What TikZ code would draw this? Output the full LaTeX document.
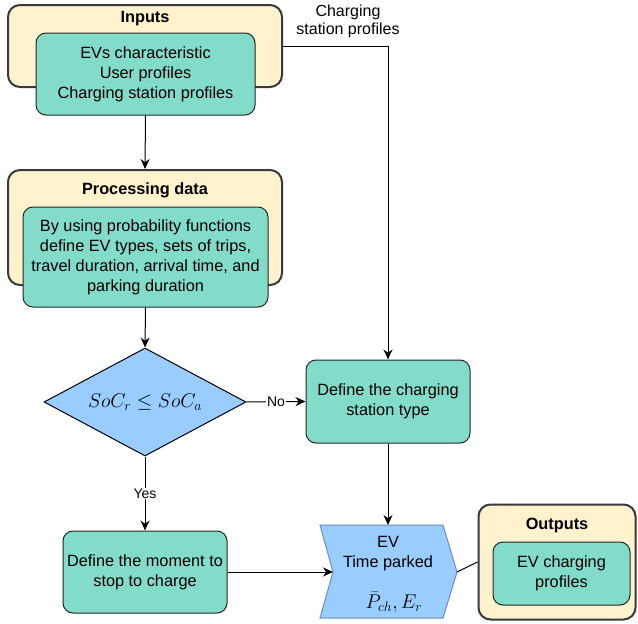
\documentclass[tikz,border=0pt]{standalone}
\usepackage{amsmath}
\usepackage{fontspec}
\setmainfont{Liberation Sans}
\usetikzlibrary{shapes.geometric,arrows.meta}
\definecolor{outerfill}{RGB}{255,242,204}
\definecolor{outerdraw}{RGB}{54,57,61}
\definecolor{greenfill}{RGB}{131,219,201}
\definecolor{bluefill}{RGB}{153,204,255}
\definecolor{bluedraw}{RGB}{108,142,191}
\begin{document}
\begin{tikzpicture}[x=1pt,y=-1pt,
  every node/.style={font=\fontsize{16.3}{20}\selectfont, inner sep=0pt},
  outerbox/.style={draw=outerdraw, line width=2pt, fill=outerfill, rounded corners=12pt},
  innerbox/.style={draw=black!85, line width=1pt, fill=greenfill, rounded corners=10pt, align=center},
  titletext/.style={font=\fontsize{16.3}{20}\selectfont\bfseries},
  mathtext/.style={font=\fontsize{17.28}{22}\selectfont},
  conn/.style={line width=1pt, draw=black},
  arr/.style={conn, -{Stealth[length=10pt,width=9pt]}},
  lbl/.style={fill=white, inner sep=1pt, font=\fontsize{14}{17}\selectfont}
]
\useasboundingbox (0,0) rectangle (638,624);

% Inputs
\node[outerbox, minimum width=274, minimum height=82] (inO) at (145,46) {};
\node[titletext] (inT) at (145,18.5) {Inputs};
\node[innerbox, minimum width=219, minimum height=82] (inI) at (145.5,74) {EVs characteristic\\User profiles\\Charging station profiles};

% Processing
\node[outerbox, minimum width=274, minimum height=115] (prO) at (145,227.5) {};
\node[titletext] (prT) at (145,190.5) {Processing data};
\node[innerbox, minimum width=245, minimum height=100] (prI) at (145.5,257) {By using probability functions\\define EV types, sets of trips,\\travel duration, arrival time, and\\parking duration};

% Decision
\node[diamond, draw=black, line width=1pt, fill=bluefill, aspect=1.87, minimum width=202, minimum height=108, mathtext] (dia) at (145,402) {\scalebox{1.15}{$SoC_r \leq SoC_a$}};

% Charging station type
\node[innerbox, minimum width=164, minimum height=83] (cst) at (388,401.5) {Define the charging\\station type};

% Moment to stop
\node[innerbox, minimum width=164, minimum height=82] (mom) at (145,572) {Define the moment to\\stop to charge};

% EV shape
\coordinate (evtop) at (388,525);
\coordinate (evleft) at (333,572);
\coordinate (evright) at (457,572);
\draw[draw=bluedraw, line width=1pt, fill=bluefill] (320,525) -- (443,525) -- (evright) -- (443,618) -- (320,618) -- (evleft) -- cycle;
\node[align=center] (evtxt) at (388,554) {EV\\Time parked};
\node[mathtext] (evmath) at (394,602) {\scalebox{1.15}{$\bar{P}_{ch}, E_r$}};

% Outputs
\node[outerbox, minimum width=157, minimum height=115] (outO) at (557,562) {};
\node[titletext] (outT) at (557,525.5) {Outputs};
\node[innerbox, minimum width=137, minimum height=63] (outI) at (561.5,573.5) {EV charging\\profiles};

% Connectors
\draw[arr] (inI.south) -- (prO.north);
\draw[arr] (inO.east) -| (cst.north);
\node[lbl, align=center, font=\fontsize{16}{18}\selectfont] (cspl) at (348,21) {Charging\\station profiles};
\draw[arr] (prI.south) -- (dia.north);
\draw[arr] (dia.east) -- node[lbl] (nolbl) {No} (cst.west);
\draw[arr] (dia.south) -- node[lbl, pos=0.5] (yeslbl) {Yes} (mom.north);
\draw[arr] (cst.south) -- (evtop);
\draw[arr] (mom.east) -- (evleft);
\draw[conn] (evright) -- (outO.west);
\end{tikzpicture}
\end{document}
